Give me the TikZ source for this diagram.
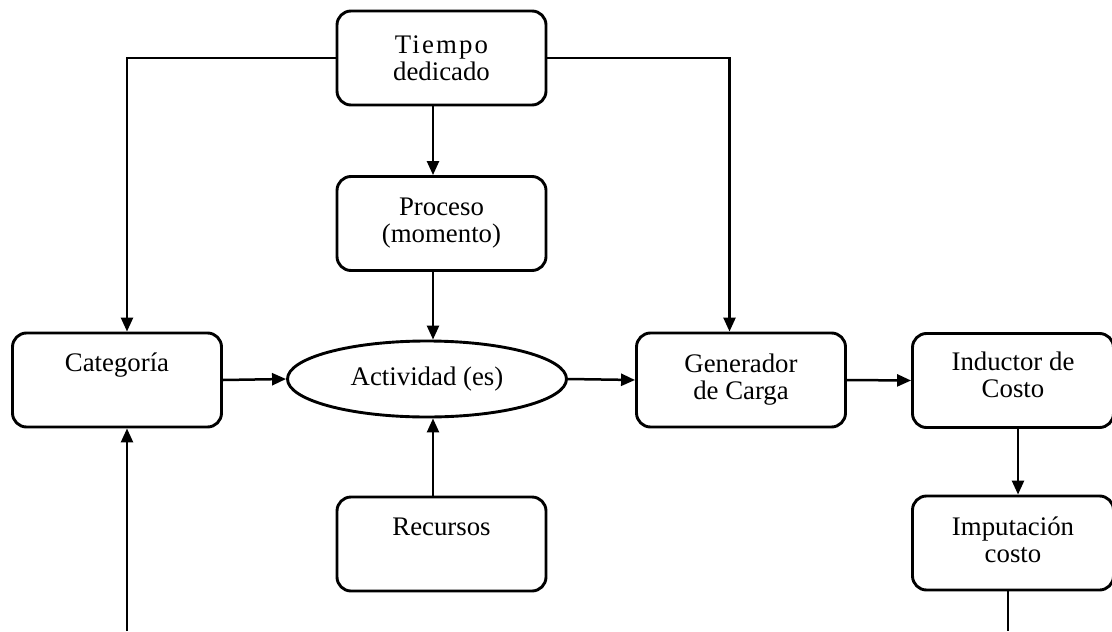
\documentclass[tikz,border=0pt]{standalone}
\usepackage{fontspec}
\setmainfont{Liberation Serif}
\usetikzlibrary{shapes.geometric,arrows.meta}
\begin{document}
\begin{tikzpicture}[x=0.5pt,y=-0.5pt,
  box/.style={draw,line width=1.45pt,rounded corners=7pt,minimum width=104.5pt,minimum height=47pt,inner sep=0pt,align=center,font=\fontsize{13.4}{13.5}\selectfont},
  ell/.style={draw,line width=1.45pt,ellipse,minimum width=139.5pt,minimum height=38pt,inner sep=0pt,font=\fontsize{13.4}{13.5}\selectfont},
  arr/.style={line width=1.25pt,-{Triangle[length=7pt,width=6pt]}},
  ln/.style={line width=1.25pt}]
\useasboundingbox (0,0) rectangle (1112,631);
\node[box] (tiempo) at (441.5,58) {{\addfontfeature{LetterSpace=8}Tiempo}\\dedicado};
\node[box] (proceso) at (441.5,223.5) {Proceso\\(momento)};
\node[box] (categoria) at (117,380) {Categoría\\\strut};
\node[ell] (act) at (427,379) {Actividad (es)};
\node[box] (gen) at (741,380) {Generador\\de Carga};
\node[box,minimum width=100.5pt] (ind) at (1013,380.5) {Inductor de\\Costo\\[-8pt]\mbox{}};
\node[box,minimum width=100.5pt] (imp) at (1013,543) {Imputación\\costo\\[-10pt]\mbox{}};
\node[box] (rec) at (441.5,544) {Recursos\\\strut};
\coordinate (bl) at (127,631);
\coordinate (br) at (1008,631);
\draw[arr] (tiempo.west) -| ([xshift=5pt]categoria.north);
\draw[arr] (tiempo.east) -| ([xshift=-5.75pt]gen.north);
\draw[arr] ([xshift=-4.25pt]tiempo.south) -- ([xshift=-4.25pt]proceso.north);
\draw[arr] ([xshift=-4.25pt]proceso.south) -- ([xshift=3pt]act.north);
\draw[arr] ([xshift=-4.25pt]rec.north) -- ([xshift=3pt]act.south);
\draw[arr] (categoria.east) -- (act.west);
\draw[arr] (act.east) -- (gen.west);
\draw[arr] (gen.east) -- (ind.west);
\draw[arr] ([xshift=2.5pt]ind.south) -- ([xshift=2.5pt]imp.north);
\draw[ln] ([xshift=-2.5pt]imp.south) -- (br);
\draw[arr] (bl) -- ([xshift=5pt]categoria.south);
\end{tikzpicture}
\end{document}
